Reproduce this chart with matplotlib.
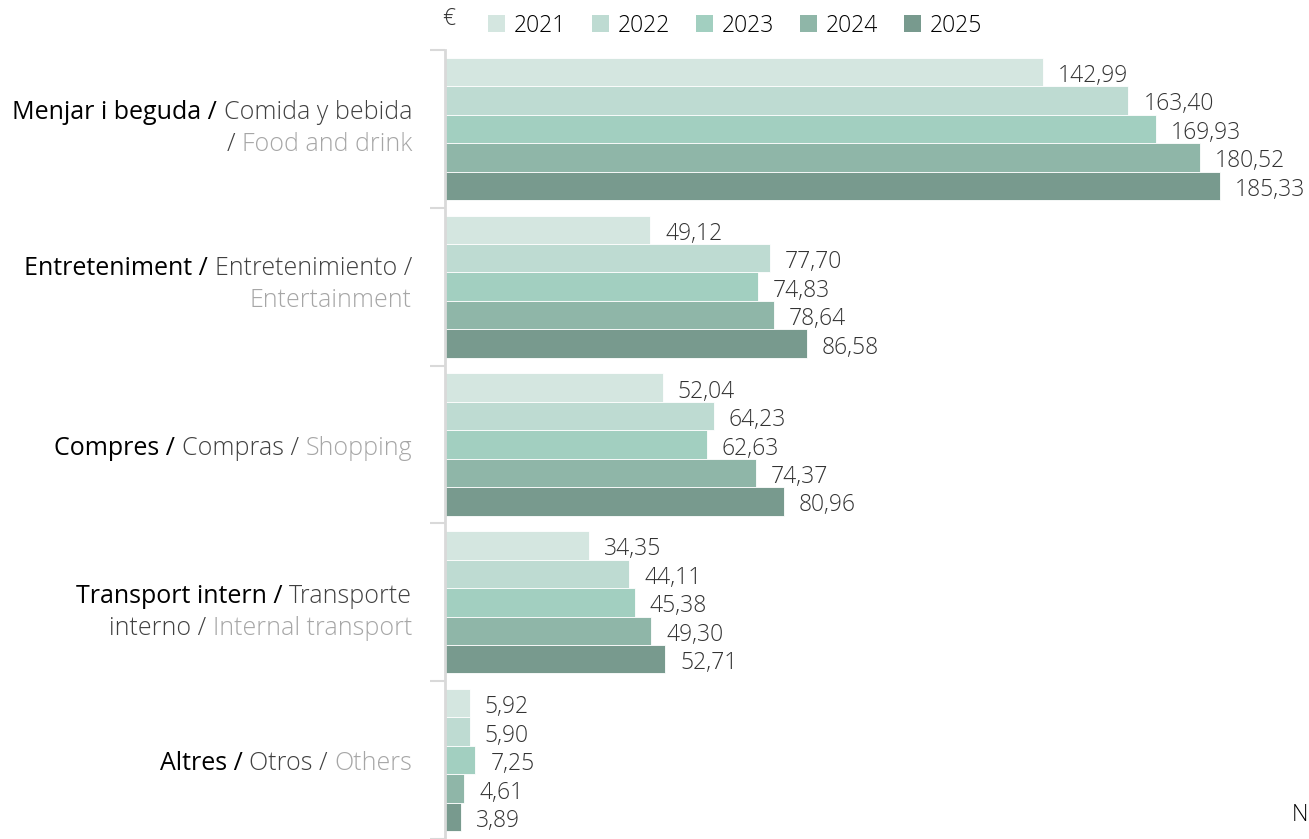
import numpy as np
import matplotlib.pyplot as plt
from matplotlib.patches import Patch

# datos
years = ['2021', '2022', '2023', '2024', '2025']
colors = ['#d4e6e0', '#bedbd2', '#a2cfc0', '#8fb6a8', '#789a8e']
v_food = [142.99, 163.40, 169.93, 180.52, 185.33]
v_ent = [49.12, 77.70, 74.83, 78.64, 86.58]
v_shop = [52.04, 64.23, 62.63, 74.37, 80.96]
v_trans = [34.35, 44.11, 45.38, 49.30, 52.71]
v_other = [5.92, 5.90, 7.25, 4.61, 3.89]
values = [v_food, v_ent, v_shop, v_trans, v_other]

BLACK, DARK, LIGHT = '#000000', '#404040', '#a6a6a6'
# etiquetas en tres idiomas, por líneas y segmentos de color
cat_labels = [
    [[('Menjar i beguda / ', BLACK), ('Comida y bebida', DARK)],
     [('/ ', DARK), ('Food and drink', LIGHT)]],
    [[('Entreteniment / ', BLACK), ('Entretenimiento /', DARK)],
     [('Entertainment', LIGHT)]],
    [[('Compres / ', BLACK), ('Compras / ', DARK), ('Shopping', LIGHT)]],
    [[('Transport intern / ', BLACK), ('Transporte', DARK)],
     [('interno / ', DARK), ('Internal transport', LIGHT)]],
    [[('Altres / ', BLACK), ('Otros / ', DARK), ('Others', LIGHT)]],
]
label_shift = [0, -2, 4, 10, 3]  # px

plt.rcParams['font.family'] = ['Open Sans', 'DejaVu Sans']
FS = 16.5
FS_LAB = 18

fig = plt.figure(figsize=(13.09, 8.39), dpi=100)
ax = fig.add_axes([445 / 1309, 0, 864 / 1309, 789 / 839])

n = len(years)
h = 0.18
y = np.arange(len(values))
for i in range(n):
    vals = [v[i] for v in values]
    pos = y + (i - (n - 1) / 2) * h
    ax.barh(pos, vals, height=h, color=colors[i], edgecolor='white', linewidth=0.6)
    for p, v in zip(pos, vals):
        ax.annotate(f'{v:.2f}'.replace('.', ','), xy=(v, p), xytext=(15, -1),
                    textcoords='offset pixels', va='center_baseline', ha='left',
                    fontsize=FS, color='#333333', fontweight='light')

ax.set_xlim(0, 864 / 4.182)
ax.set_ylim(len(values) - 0.5, -0.5)
ax.set_xticks([])
ax.set_yticks([])
ax.set_yticks(np.arange(-0.5, len(values), 1), minor=True)
ax.tick_params(axis='y', which='minor', length=11, width=1.5, color='#d9d9d9')
for s in ['top', 'right', 'bottom']:
    ax.spines[s].set_visible(False)
ax.spines['left'].set_color('#d9d9d9')
ax.spines['left'].set_linewidth(2)

# etiquetas de categoría: segmentos encadenados de derecha a izquierda
x_lab = 412 / 1309
line_px = 32
for c, lines in enumerate(cat_labels):
    yc = ax.transData.transform((0, c))[1] / 839 - label_shift[c] / 839
    nl = len(lines)
    for li, segs in enumerate(lines):
        yl = yc + ((nl - 1) / 2 - li) * line_px / 839
        prev = None
        for txt, col in reversed(segs):
            w = 'normal' if col == BLACK else 'light'
            if prev is None:
                prev = fig.text(x_lab, yl, txt, ha='right', va='center',
                                fontsize=FS_LAB, color=col, fontweight=w)
            else:
                prev = ax.annotate(txt, xy=(0, 0), xycoords=prev, ha='right', va='bottom',
                                   fontsize=FS_LAB, color=col, fontweight=w,
                                   annotation_clip=False)

# leyenda
handles = [Patch(facecolor=c, edgecolor='none') for c in colors]
fig.legend(handles, years, loc='upper left', bbox_to_anchor=(474 / 1309, 1.0), ncol=5,
           frameon=False, handlelength=0.75, handleheight=0.75,
           handletextpad=0.4, columnspacing=1.1, borderaxespad=0.2,
           prop={'weight': 'light', 'size': FS})
fig.text(449 / 1309, 1 - 19 / 839, '€', ha='center', va='center', fontsize=FS,
         color='#333333', fontweight='light')
fig.text(1308 / 1309, 1 - 815 / 839, 'N', ha='right', va='center', fontsize=FS,
         color='#000000', fontweight='light')

fig.savefig('out.png', dpi=100)
